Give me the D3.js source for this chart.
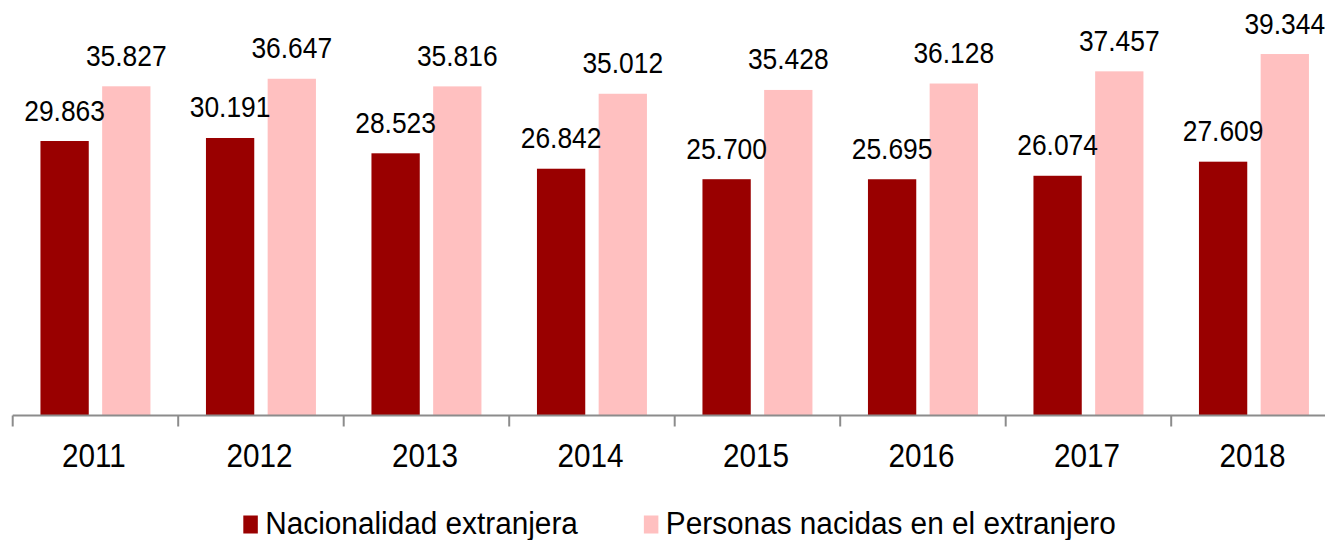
<!DOCTYPE html>
<html>
<head>
<meta charset="utf-8">
<script src="https://cdn.jsdelivr.net/npm/d3@7"></script>
<style>
  body { margin: 0; background: #fff; }
  svg text { font-family: "Liberation Sans", Arial, sans-serif; fill: #000; }
</style>
</head>
<body>
<svg id="chart" width="1325" height="540"></svg>
<script>
let years = ["2011", "2012", "2013", "2014", "2015", "2016", "2017", "2018"]
let seriesNames = ["Nacionalidad extranjera", "Personas nacidas en el extranjero"]
let nacionalidad = [29.863, 30.191, 28.523, 26.842, 25.700, 25.695, 26.074, 27.609]
let nacidas = [35.827, 36.647, 35.816, 35.012, 35.428, 36.128, 37.457, 39.344]
let colors = ["#990000", "#ffc0c0"]

let fmt = v => v.toFixed(3)

let svg = d3.select('#chart')
let baseY = 415
let xscale = 0.9 // text in the original is slightly condensed

let x = d3.scaleBand().domain(years).range([12.7, 1336.7]).padding(0)
let xs = d3.scaleBand().domain([0, 1]).range([0, x.bandwidth()]).paddingInner(0.217).paddingOuter(0.45)
let y = d3.scaleLinear().domain([0, 40]).range([baseY, 48])

let data = years.map((yr, i) => ({ year: yr, values: [nacionalidad[i], nacidas[i]] }))

let groups = svg.selectAll('g.year').data(data).enter().append('g')
  .attr('class', 'year')
  .attr('transform', d => 'translate(' + x(d.year) + ',0)')

groups.selectAll('rect').data(d => d.values.map((v, k) => ({ k: k, v: v }))).enter().append('rect')
  .attr('x', d => xs(d.k))
  .attr('y', d => y(d.v))
  .attr('width', xs.bandwidth())
  .attr('height', d => baseY - y(d.v))
  .attr('fill', d => colors[d.k])

groups.selectAll('text.lbl').data(d => d.values.map((v, k) => ({ k: k, v: v }))).enter().append('text')
  .attr('class', 'lbl')
  .attr('text-anchor', 'middle')
  .style('font-size', '30px')
  .attr('transform', d => 'translate(' + (xs(d.k) + xs.bandwidth() / 2) + ',' + (y(d.v) - 20.5) + ') scale(0.88,1)')
  .text(d => fmt(d.v))

// axis
let axis = svg.append('g').attr('transform', 'translate(0,' + (baseY + 0.5) + ')')
axis.append('line').attr('x1', x.range()[0]).attr('x2', x.range()[1]).attr('stroke', '#8c8c8c').attr('stroke-width', 2)
axis.selectAll('line.tick').data(years.concat(['end'])).enter().append('line')
  .attr('class', 'tick')
  .attr('x1', (d, i) => x.range()[0] + i * x.step())
  .attr('x2', (d, i) => x.range()[0] + i * x.step())
  .attr('y1', 0).attr('y2', 11)
  .attr('stroke', '#8c8c8c').attr('stroke-width', 2)
axis.selectAll('text').data(years).enter().append('text')
  .attr('text-anchor', 'middle')
  .style('font-size', '33px')
  .attr('transform', d => 'translate(' + (x(d) + x.bandwidth() / 2 - 1.5) + ',51) scale(' + xscale + ',1)')
  .text(d => d)

// legend
let legend = svg.append('g')
let cursor = 0
let gap = 66
seriesNames.forEach((name, k) => {
  let g = legend.append('g')
  g.append('rect').attr('x', 0).attr('y', -18).attr('width', 14.5).attr('height', 18).attr('fill', colors[k])
  let t = g.append('text').attr('transform', 'translate(22,0) scale(0.96,1)').style('font-size', '31px').text(name)
  let w = 22 + t.node().getComputedTextLength() * 0.96
  g.attr('transform', 'translate(' + cursor + ',0)')
  cursor += w + gap
})
let total = cursor - gap
legend.attr('transform', 'translate(' + (679.5 - total / 2) + ',533.5)')
</script>
</body>
</html>
